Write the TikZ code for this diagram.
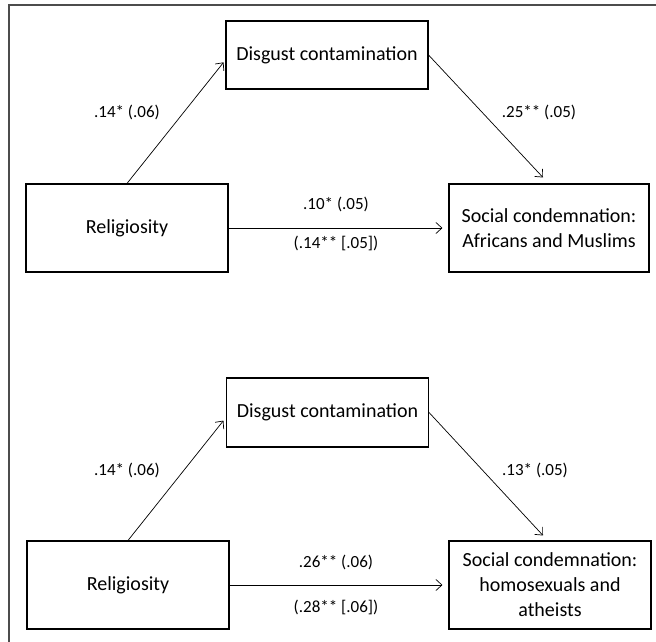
\documentclass[tikz,border=0pt]{standalone}
\usepackage{fontspec}
\setmainfont{Carlito}
\usetikzlibrary{arrows.meta}
\begin{document}
\begin{tikzpicture}[x=1pt,y=-1pt,
  box/.style={draw=black,line width=1.1pt,minimum width=202pt,inner sep=0pt,align=center,font=\fontsize{20}{25}\selectfont},
  smallbox/.style={box,minimum height=68pt},
  bigbox/.style={box,minimum height=88pt},
  conn/.style={draw=black,line width=0.7pt,-{Straight Barb[length=6pt,width=11pt,line width=0.7pt]}},
  lbl/.style={inner sep=0pt,font=\fontsize{17}{20}\selectfont}]
\useasboundingbox (0,0) rectangle (656,642);
\draw[line width=1.4pt,draw=black!70] (9,642) -- (9,5) -- (656,5);

% top diagram
\node[smallbox] (dis1) at (327,55) {Disgust contamination};
\node[bigbox] (rel1) at (127,228) {Religiosity};
\node[bigbox,minimum width=200pt] (soc1) at (549,228) {Social condemnation:\\Africans and Muslims};
\draw[conn,shorten >=3pt] (rel1.north) -- ([yshift=-5pt]dis1.west);
\draw[conn] (dis1.east) -- ([xshift=-6pt,yshift=6pt]soc1.north);
\draw[conn,shorten >=6pt] (rel1.east) -- (soc1.west);
\node[lbl] (l1) at (127,112) {.14* (.06)};
\node[lbl] (l2) at (539,112) {.25** (.05)};
\node[lbl] (l3) at (336,204) {.10* (.05)};
\node[lbl] (l4) at (336,243) {(.14** [.05])};

% bottom diagram
\node[smallbox,minimum height=69pt] (dis2) at (327.5,412.5) {Disgust contamination};
\node[bigbox] (rel2) at (128,585) {Religiosity};
\node[bigbox] (soc2) at (550,585) {Social condemnation:\\homosexuals and\\atheists};
\draw[conn,shorten >=4pt] (rel2.north) -- ([yshift=-5pt]dis2.west);
\draw[conn] (dis2.east) -- ([xshift=-7pt,yshift=5pt]soc2.north);
\draw[conn,shorten >=6pt] (rel2.east) -- (soc2.west);
\node[lbl] (l5) at (127,470) {.14* (.06)};
\node[lbl] (l6) at (535,470) {.13* (.05)};
\node[lbl] (l7) at (336,562) {.26** (.06)};
\node[lbl] (l8) at (336,607) {(.28** [.06])};
\end{tikzpicture}
\end{document}
